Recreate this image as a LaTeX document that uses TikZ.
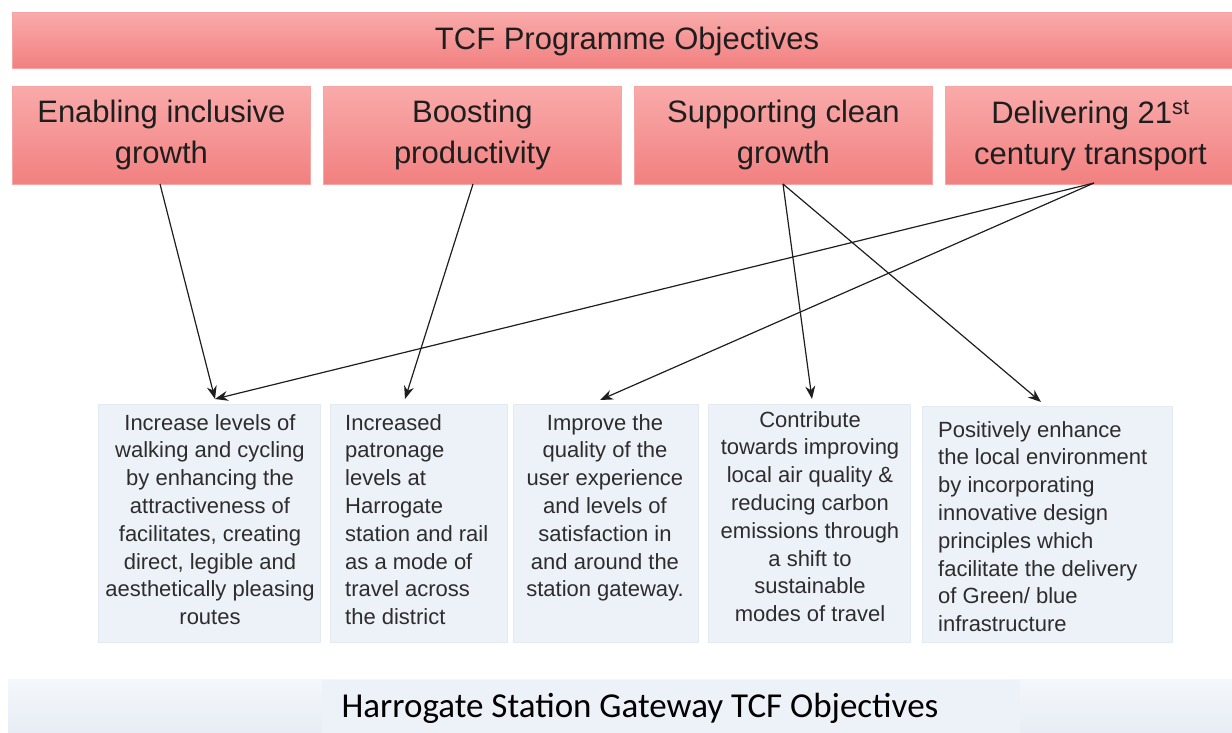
\documentclass[tikz,border=0pt]{standalone}
\usepackage{fontspec}
\setmainfont{Liberation Sans}
\newfontfamily\calib{Carlito}
\usetikzlibrary{arrows.meta}
\definecolor{pinktop}{RGB}{249,170,170}
\definecolor{pinkbot}{RGB}{242,128,128}
\definecolor{pinkline}{RGB}{246,165,165}
\definecolor{boxblue}{RGB}{237,241,248}
\definecolor{boxline}{RGB}{228,233,242}
\definecolor{bantop}{RGB}{244,247,251}
\definecolor{banbot}{RGB}{232,237,245}
\definecolor{txtdark}{RGB}{30,30,30}
\definecolor{txtgrey}{RGB}{45,45,45}
\definecolor{arrowc}{RGB}{30,30,30}
\tikzset{
  pinkbox/.style={draw=pinkline, line width=0.8pt, top color=pinktop, bottom color=pinkbot,
    inner sep=0pt, anchor=north west, text=txtdark, align=center,
    font=\fontsize{31}{41}\selectfont},
  bluebox/.style={draw=boxline, line width=0.6pt, fill=boxblue, inner sep=0pt, anchor=north west},
  bluetxt/.style={text=txtgrey, inner sep=0pt, font=\fontsize{22}{27.8}\selectfont},
  link/.style={draw=arrowc, line width=1.2pt, -{Stealth[length=13pt,width=10pt]}}
}
\begin{document}
\begin{tikzpicture}[x=1pt,y=-1pt]
\useasboundingbox (0,0) rectangle (1232,732);
% top banner
\node[pinkbox, minimum width=1222pt, minimum height=56pt] (banner) at (12,12) {};
\node[text=txtdark, font=\fontsize{31}{36}\selectfont, inner sep=0pt] (bantxt) at (627,41) {TCF Programme Objectives};
% four programme objectives
\node[pinkbox, minimum width=298pt, minimum height=98pt] (p1) at (12,86) {Enabling inclusive\\growth};
\node[pinkbox, minimum width=298pt, minimum height=98pt] (p2) at (323,86) {Boosting\\productivity};
\node[pinkbox, minimum width=298pt, minimum height=98pt] (p3) at (634,86) {Supporting clean\\growth};
\node[pinkbox, minimum width=290pt, minimum height=98pt] (p4) at (945,86) {Delivering 21\textsuperscript{st}\\century transport};
% station objectives boxes
\node[bluebox, minimum width=222pt, minimum height=238pt] (bA) at (98,404) {};
\node[bluebox, minimum width=177pt, minimum height=238pt] (bB) at (330,404) {};
\node[bluebox, minimum width=185pt, minimum height=238pt] (bC) at (513,404) {};
\node[bluebox, minimum width=202pt, minimum height=238pt] (bD) at (708,404) {};
\node[bluebox, minimum width=250pt, minimum height=236pt] (bE) at (922,406) {};
\node[bluetxt, align=center, anchor=north] (tA) at (210,414) {Increase levels of\\walking and cycling\\by enhancing the\\attractiveness of\\facilitates, creating\\direct, legible and\\aesthetically pleasing\\routes};
\node[bluetxt, align=left, anchor=north west] (tB) at (345,414) {Increased\\patronage\\levels at\\Harrogate\\station and rail\\as a mode of\\travel across\\the district};
\node[bluetxt, align=center, anchor=north] (tC) at (605,414) {Improve the\\quality of the\\user experience\\and levels of\\satisfaction in\\and around the\\station gateway.};
\node[bluetxt, align=center, anchor=north] (tD) at (810,411) {Contribute\\towards improving\\local air quality \&\\reducing carbon\\emissions through\\a shift to\\sustainable\\modes of travel};
\node[bluetxt, align=left, anchor=north west] (tE) at (938,421) {Positively enhance\\the local environment\\by incorporating\\innovative design\\principles which\\facilitate the delivery\\of Green/ blue\\infrastructure};
% bottom banner
\node[inner sep=0pt, anchor=north west, minimum width=1224pt, minimum height=54pt,
      top color=bantop, bottom color=banbot, draw=none] (bottom) at (8,679) {};
\draw[white!60!boxline, line width=1pt] (bottom.north west) -- (bottom.north east);
\node[inner sep=0pt, anchor=north west, minimum width=698pt, minimum height=53pt,
      fill=boxblue, draw=none] (bottomin) at (322,680) {};
\node[text=black, font=\calib\fontsize{35}{40}\selectfont, inner sep=0pt] (bottxt) at (640,708) {Harrogate Station Gateway TCF Objectives};
% connector end points
\coordinate (s1) at (160,184);
\coordinate (s2) at (473,184);
\coordinate (s3) at (783,184);
\coordinate (s4) at (1094,183);
\coordinate (eA) at (215,399);
\coordinate (eB) at (405,399);
\coordinate (eC) at (600,400);
\coordinate (eD) at (812,399);
\coordinate (eE) at (1041,402);
\draw[link] (s1) -- (eA);
\draw[link] (s2) -- (eB);
\draw[link] (s3) -- (eD);
\draw[link] (s3) -- (eE);
\draw[link] (s4) -- (eA);
\draw[link] (s4) -- (eC);
\end{tikzpicture}
\end{document}
